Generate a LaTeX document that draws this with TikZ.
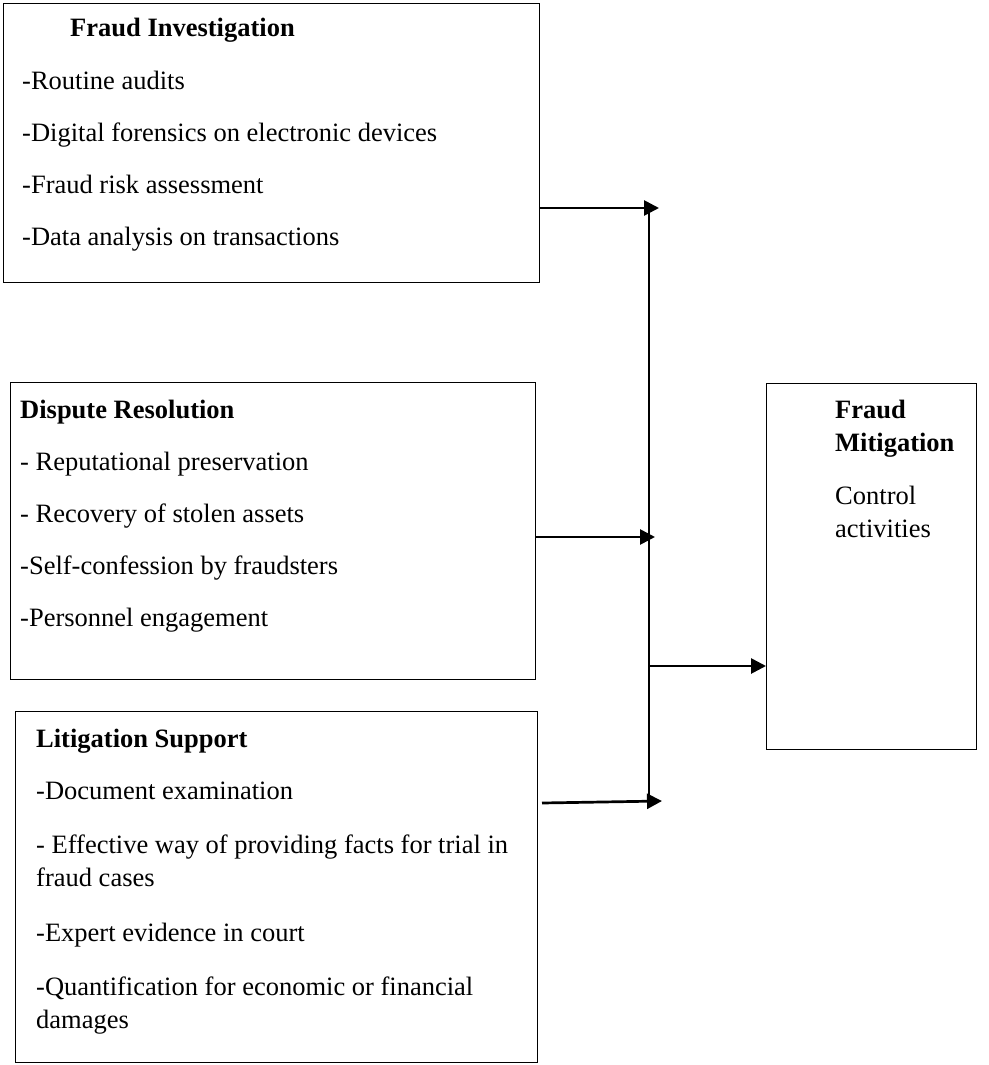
\documentclass[tikz,border=0pt]{standalone}
\usepackage{fontspec}
\setmainfont{Liberation Serif}
\usetikzlibrary{arrows.meta}
\tikzset{
  box/.style={draw=black, line width=1.4pt, rectangle, inner sep=0pt, anchor=north west},
  txt/.style={anchor=base west, inner sep=0pt, font=\fontsize{26.5pt}{33pt}\selectfont},
  ttl/.style={txt, font=\fontsize{26.5pt}{33pt}\selectfont\bfseries},
  arr/.style={line width=2.7pt, -{Triangle[length=15pt,width=15pt]}},
  bus/.style={line width=2pt}
}
\begin{document}
\begin{tikzpicture}[x=1pt,y=-1pt]
\useasboundingbox (0,0) rectangle (988,1065);
% boxes
\node[box, minimum width=536pt, minimum height=279pt] (fi) at (3,3) {};
\node[box, minimum width=525pt, minimum height=297pt] (dr) at (10,382) {};
\node[box, minimum width=522pt, minimum height=351pt] (ls) at (15,711) {};
\node[box, minimum width=210pt, minimum height=366pt] (fm) at (766,383) {};
% Fraud Investigation
\node[ttl] (fi0) at (70,37) {Fraud Investigation};
\node[txt] (fi1) at (22,89) {-Routine audits};
\node[txt] (fi2) at (22,141) {-Digital forensics on electronic devices};
\node[txt] (fi3) at (22,193) {-Fraud risk assessment};
\node[txt] (fi4) at (22,245) {-Data analysis on transactions};
% Dispute Resolution
\node[ttl] (dr0) at (20,418) {Dispute Resolution};
\node[txt] (dr1) at (20,470) {- Reputational preservation};
\node[txt] (dr2) at (20,522) {- Recovery of stolen assets};
\node[txt] (dr3) at (20,574) {-Self-confession by fraudsters};
\node[txt] (dr4) at (20,626) {-Personnel engagement};
% Litigation Support
\node[ttl] (ls0) at (36,747) {Litigation Support};
\node[txt] (ls1) at (36,799) {-Document examination};
\node[txt] (ls2a) at (36,853) {- Effective way of providing facts for trial in};
\node[txt] (ls2b) at (36,886) {fraud cases};
\node[txt] (ls3) at (36,941) {-Expert evidence in court};
\node[txt] (ls4a) at (36,995) {-Quantification for economic or financial};
\node[txt] (ls4b) at (36,1028) {damages};
% Fraud Mitigation
\node[ttl] (fm0) at (835,418) {Fraud};
\node[ttl] (fm1) at (835,451) {Mitigation};
\node[txt] (fm2) at (835,504) {Control};
\node[txt] (fm3) at (835,537) {activities};
% connectors
\coordinate (t1) at (659,208);
\coordinate (t2) at (655,537);
\coordinate (s3) at (542,803);
\coordinate (t3) at (662,801);
\coordinate (btop) at (649,212);
\coordinate (bbot) at (649,801);
\coordinate (j4) at (649,666);
\draw[bus] (btop) -- (bbot);
\draw[arr] (fi.east |- t1) -- (t1);
\draw[arr] (dr.east |- t2) -- (t2);
\draw[arr] (s3) -- (t3);
\draw[arr] (j4) -- (fm.west |- j4);
\end{tikzpicture}
\end{document}
